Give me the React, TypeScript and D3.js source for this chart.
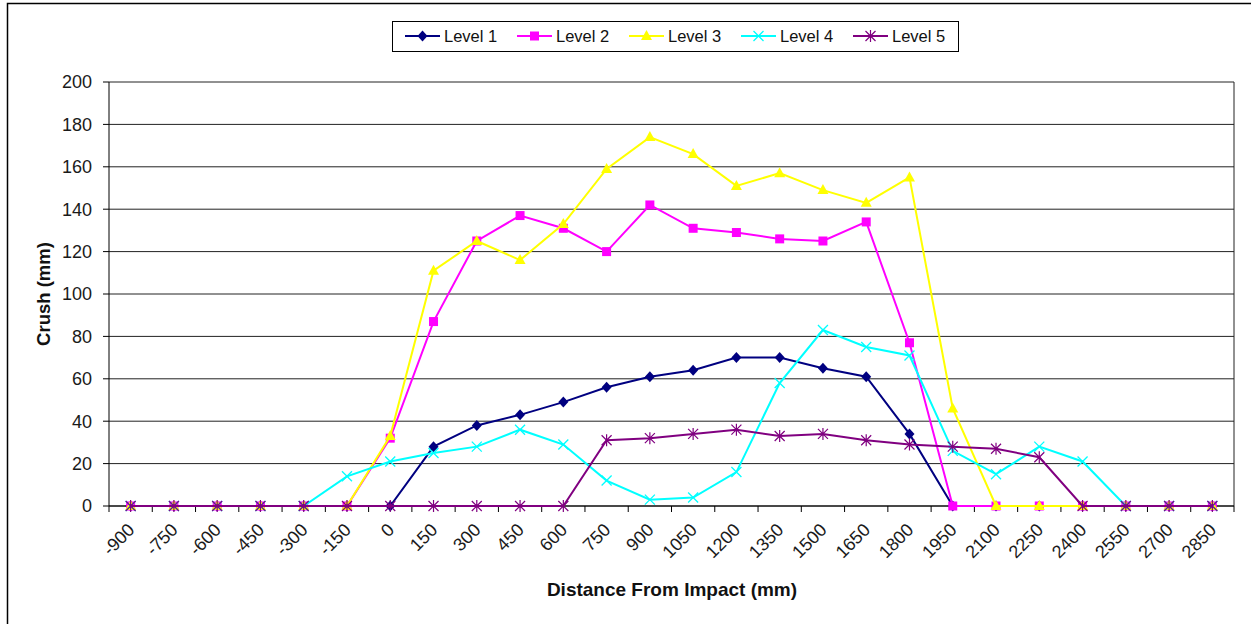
import * as d3 from 'd3'

const categories = [
  '-900', '-750', '-600', '-450', '-300', '-150', '0', '150', '300', '450', '600', '750', '900',
  '1050', '1200', '1350', '1500', '1650', '1800', '1950', '2100', '2250', '2400', '2550', '2700', '2850',
]

const level1 = [0, 0, 0, 0, 0, 0, 0, 28, 38, 43, 49, 56, 61, 64, 70, 70, 65, 61, 34, 0, 0, 0, 0, 0, 0, 0]
const level2 = [0, 0, 0, 0, 0, 0, 32, 87, 125, 137, 131, 120, 142, 131, 129, 126, 125, 134, 77, 0, 0, 0, 0, 0, 0, 0]
const level3 = [0, 0, 0, 0, 0, 0, 33, 111, 125, 116, 133, 159, 174, 166, 151, 157, 149, 143, 155, 46, 0, 0, 0, 0, 0, 0]
const level4 = [0, 0, 0, 0, 0, 14, 21, 25, 28, 36, 29, 12, 3, 4, 16, 58, 83, 75, 71, 26, 15, 28, 21, 0, 0, 0]
const level5 = [0, 0, 0, 0, 0, 0, 0, 0, 0, 0, 0, 31, 32, 34, 36, 33, 34, 31, 29, 28, 27, 23, 0, 0, 0, 0]

const yTicks = [0, 20, 40, 60, 80, 100, 120, 140, 160, 180, 200]

const series = [
  { name: 'Level 1', values: level1, color: '#000080', marker: 'diamond' },
  { name: 'Level 2', values: level2, color: '#FF00FF', marker: 'square' },
  { name: 'Level 3', values: level3, color: '#FFFF00', marker: 'triangle' },
  { name: 'Level 4', values: level4, color: '#00FFFF', marker: 'x' },
  { name: 'Level 5', values: level5, color: '#800080', marker: 'star' },
]

const WIDTH = 1251
const HEIGHT = 624
const PLOT = { left: 109, right: 1234, top: 82, bottom: 506 }
const FONT = 'Arial, "Liberation Sans", sans-serif'

const Marker = ({ type, x, y, color }: { type: string; x: number; y: number; color: string }) => {
  if (type === 'diamond') {
    return <path d={`M${x},${y - 5.5}L${x + 5},${y}L${x},${y + 5.5}L${x - 5},${y}Z`} fill={color} />
  }
  if (type === 'square') {
    return <rect x={x - 4.5} y={y - 4.5} width={9} height={9} fill={color} />
  }
  if (type === 'triangle') {
    return <path d={`M${x},${y - 6}L${x + 5.5},${y + 4}L${x - 5.5},${y + 4}Z`} fill={color} />
  }
  if (type === 'x') {
    return (
      <path
        d={`M${x - 5},${y - 5}L${x + 5},${y + 5}M${x - 5},${y + 5}L${x + 5},${y - 5}`}
        stroke={color}
        strokeWidth={1.3}
      />
    )
  }
  return (
    <path
      d={`M${x - 5},${y - 5}L${x + 5},${y + 5}M${x - 5},${y + 5}L${x + 5},${y - 5}M${x},${y - 6}L${x},${y + 6}`}
      stroke={color}
      strokeWidth={1.2}
    />
  )
}

export default function App() {
  const x = d3.scaleBand().domain(categories).range([PLOT.left, PLOT.right])
  const bw = x.bandwidth()
  const cx = (c: string) => (x(c) ?? 0) + bw / 2
  const y = d3.scaleLinear().domain([0, 200]).range([PLOT.bottom, PLOT.top])

  const line = d3
    .line<number>()
    .x((_, i) => cx(categories[i]))
    .y((d) => y(d))

  const boundaries = categories.map((c) => x(c) ?? 0).concat([PLOT.right])

  return (
    <svg
      width={WIDTH}
      height={HEIGHT}
      style={{ position: 'absolute', left: 0, top: 0, background: '#fff' }}
      fontFamily={FONT}
    >
      <rect x={0} y={0} width={WIDTH} height={HEIGHT} fill="#fff" />
      {/* outer chart frame */}
      <path d={`M7.5,${HEIGHT + 5}V3.5H${WIDTH + 5}`} fill="none" stroke="#000" strokeWidth={1.5} />

      {/* gridlines */}
      {yTicks.map((t) => (
        <line key={t} x1={PLOT.left} x2={PLOT.right} y1={y(t)} y2={y(t)} stroke="#222" strokeWidth={1} />
      ))}
      <line x1={PLOT.right} x2={PLOT.right} y1={PLOT.top} y2={PLOT.bottom} stroke="#222" strokeWidth={1} />

      {/* y axis */}
      <line x1={PLOT.left} x2={PLOT.left} y1={PLOT.top} y2={PLOT.bottom} stroke="#000" />
      {yTicks.map((t) => (
        <g key={t}>
          <line x1={PLOT.left - 6} x2={PLOT.left} y1={y(t)} y2={y(t)} stroke="#000" />
          <text x={92} y={y(t)} dy="0.35em" textAnchor="end" fontSize={18} fill="#1a1a1a">
            {t}
          </text>
        </g>
      ))}

      {/* x axis */}
      <line x1={PLOT.left} x2={PLOT.right} y1={PLOT.bottom} y2={PLOT.bottom} stroke="#000" />
      {boundaries.map((b, i) => (
        <line key={i} x1={b} x2={b} y1={PLOT.bottom} y2={PLOT.bottom + 6} stroke="#000" />
      ))}
      {categories.map((c) => (
        <text
          key={c}
          transform={`translate(${cx(c) + 5},${PLOT.bottom + 25}) rotate(-45)`}
          textAnchor="end"
          fontSize={18}
          fill="#1a1a1a"
        >
          {c}
        </text>
      ))}

      {/* series */}
      {series.map((s) => (
        <g key={s.name}>
          <path d={line(s.values) ?? ''} fill="none" stroke={s.color} strokeWidth={2} />
          {s.values.map((v, i) => (
            <Marker key={i} type={s.marker} x={cx(categories[i])} y={y(v)} color={s.color} />
          ))}
        </g>
      ))}

      {/* axis titles */}
      <text
        transform={`translate(50,${(PLOT.top + PLOT.bottom) / 2}) rotate(-90)`}
        textAnchor="middle"
        fontSize={18.5}
        fontWeight="bold"
        fill="#111"
      >
        Crush (mm)
      </text>
      <text x={672} y={596} textAnchor="middle" fontSize={19} fontWeight="bold" fill="#111">
        Distance From Impact (mm)
      </text>

      {/* legend */}
      <rect x={392.5} y={21.5} width={566} height={30} fill="#fff" stroke="#000" strokeWidth={1} />
      {series.map((s, i) => {
        const lx = 405 + i * 112
        return (
          <g key={s.name}>
            <line x1={lx} x2={lx + 35} y1={36} y2={36} stroke={s.color} strokeWidth={2} />
            <Marker type={s.marker} x={lx + 17.5} y={36} color={s.color} />
            <text x={lx + 39} y={36} dy="0.35em" fontSize={16.5} fill="#111">
              {s.name}
            </text>
          </g>
        )
      })}
    </svg>
  )
}
